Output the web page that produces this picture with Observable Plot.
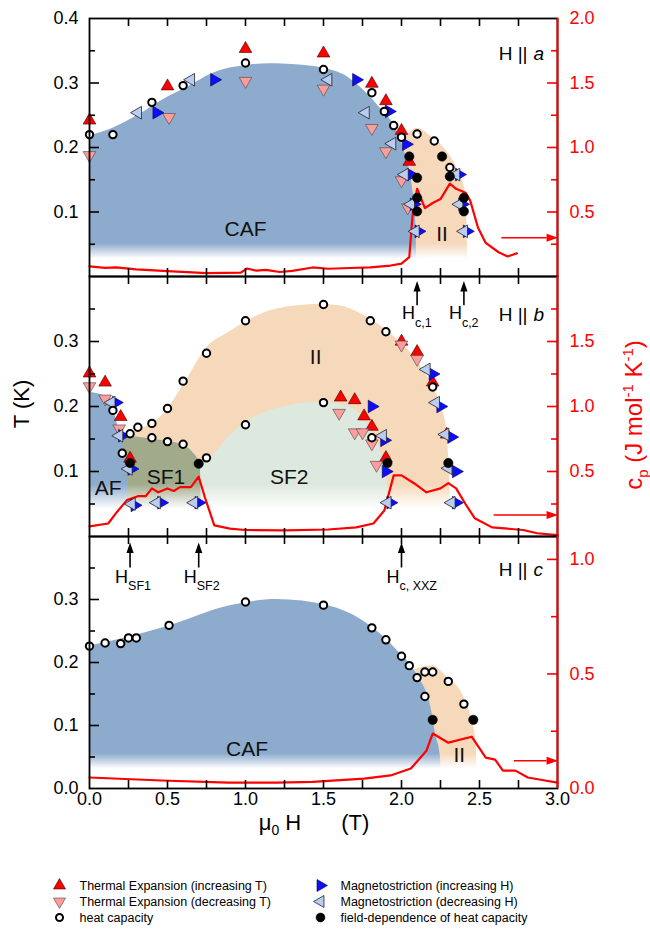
<!DOCTYPE html>
<html><head><meta charset="utf-8">
<script src="https://cdn.jsdelivr.net/npm/d3@7"></script>
<script src="https://cdn.jsdelivr.net/npm/@observablehq/plot@0.6"></script>
<style>
html,body{margin:0;padding:0;background:#fff;}
#fig{position:relative;width:650px;height:930px;font-family:"Liberation Sans",Arial,sans-serif;overflow:hidden;}
#fig svg{position:absolute;left:0;overflow:visible;}
.ttl{position:absolute;white-space:nowrap;font-size:22px;line-height:1;}
.ttl sub,.ttl sup{font-size:14px;line-height:0;}
</style></head>
<body><div id="fig"></div>
<script>
// ---------------- DATA (H in T, T in K, cp in J/mol/K) ----------------
// Panel a (H || a)
const aTeUp   = [[0,0.242],[0.5,0.295],[1.0,0.353],[1.5,0.346],[1.81,0.299],[1.90,0.272],[2.0,0.226],[2.05,0.178]];
const aTeDown = [[0,0.188],[0.51,0.247],[1.0,0.303],[1.5,0.291],[1.81,0.230],[1.90,0.194],[2.0,0.149],[2.04,0.107]];
const aMsUp   = [[0.43,0.254],[0.80,0.305],[1.71,0.305],[1.92,0.256],[2.03,0.205],[2.06,0.158],[2.08,0.112],[2.11,0.070],[2.37,0.158],[2.39,0.112],[2.42,0.070]];
const aMsDown = [[0.31,0.254],[0.65,0.305],[1.53,0.305],[1.77,0.254],[1.94,0.206],[2.02,0.158],[2.06,0.112],[2.09,0.070],[2.35,0.158],[2.37,0.112],[2.40,0.070]];
const aHc     = [[0,0.220],[0.15,0.220],[0.40,0.270],[0.60,0.296],[1.0,0.331],[1.5,0.321],[1.81,0.285],[1.89,0.256],[1.95,0.234],[2.0,0.216],[2.10,0.221],[2.21,0.210],[2.31,0.169]];
const aHcField= [[2.05,0.186],[2.26,0.186],[2.10,0.153],[2.31,0.155],[2.10,0.122],[2.10,0.101],[2.40,0.122],[2.40,0.101]];
const aCp     = [[0,0.078],[0.10,0.067],[0.17,0.070],[0.30,0.055],[0.50,0.041],[0.75,0.026],[0.97,0.030],[1.01,0.062],[1.07,0.045],[1.13,0.052],[1.22,0.035],[1.30,0.043],[1.43,0.070],[1.53,0.060],[1.67,0.066],[1.80,0.070],[1.93,0.085],[2.0,0.10],[2.05,0.15],[2.07,0.46],[2.10,0.68],[2.15,0.53],[2.20,0.57],[2.25,0.60],[2.31,0.72],[2.35,0.68],[2.41,0.65],[2.44,0.59],[2.49,0.38],[2.54,0.26],[2.62,0.19],[2.68,0.155],[2.74,0.18]];
const aCAF    = [[0,0.218],[0.15,0.230],[0.31,0.250],[0.50,0.278],[0.60,0.290],[0.80,0.316],[1.0,0.327],[1.15,0.330],[1.38,0.327],[1.62,0.314],[1.71,0.299],[1.86,0.262],[1.97,0.226],[2.03,0.185],[2.07,0.138],[2.09,0.092],[2.10,0.0]];
const aII     = [[1.95,0.200],[2.05,0.222],[2.10,0.230],[2.20,0.215],[2.27,0.200],[2.36,0.165],[2.41,0.130],[2.42,0.080],[2.425,0.0]];

// Panel b (H || b)
const bTeUp   = [[0,0.251],[0.10,0.237],[0.20,0.184],[0.26,0.120],[1.61,0.214],[1.70,0.210],[1.76,0.185],[1.81,0.169],[1.90,0.121],[2.0,0.300],[2.10,0.284],[2.20,0.237],[2.29,0.157]];
const bTeDown = [[0,0.231],[0.10,0.212],[0.19,0.166],[1.60,0.190],[1.70,0.160],[1.75,0.160],[1.81,0.143],[1.84,0.110],[2.0,0.295],[2.10,0.273]];
const bMsUp   = [[0.17,0.206],[0.21,0.155],[0.27,0.104],[0.29,0.048],[0.46,0.052],[0.70,0.052],[1.81,0.200],[1.89,0.148],[1.90,0.100],[1.93,0.052],[2.20,0.250],[2.25,0.200],[2.32,0.153],[2.35,0.100],[2.35,0.052]];
const bMsDown = [[0.14,0.206],[0.19,0.155],[0.25,0.104],[0.27,0.050],[0.43,0.052],[0.67,0.052],[1.88,0.155],[1.91,0.052],[2.16,0.257],[2.22,0.206],[2.28,0.157],[2.30,0.105],[2.32,0.052]];
const bHc     = [[0.15,0.194],[0.21,0.128],[0.26,0.158],[0.31,0.168],[0.40,0.174],[0.40,0.152],[0.50,0.197],[0.50,0.146],[0.60,0.239],[0.60,0.142],[0.75,0.282],[0.75,0.121],[1.0,0.332],[1.0,0.172],[1.5,0.357],[1.5,0.206],[1.80,0.332],[1.81,0.152],[1.90,0.315],[2.20,0.230]];
const bHcField= [[0.26,0.113],[0.70,0.112],[1.91,0.113],[2.30,0.113]];
const bCp     = [[0,0.078],[0.12,0.10],[0.17,0.18],[0.24,0.28],[0.31,0.31],[0.36,0.31],[0.40,0.37],[0.44,0.34],[0.50,0.37],[0.54,0.35],[0.58,0.38],[0.65,0.38],[0.70,0.46],[0.74,0.30],[0.80,0.085],[0.90,0.06],[1.0,0.05],[1.25,0.047],[1.53,0.054],[1.71,0.07],[1.82,0.10],[1.89,0.20],[1.95,0.47],[2.0,0.47],[2.08,0.41],[2.16,0.34],[2.25,0.37],[2.30,0.41],[2.35,0.37],[2.41,0.25],[2.47,0.14],[2.58,0.07],[2.68,0.06],[2.78,0.05],[2.87,0.025],[3.0,0.01]];
const bAF     = [[0,0.222],[0.11,0.214],[0.16,0.190],[0.20,0.150],[0.23,0.120],[0.245,0.080],[0.25,0.0]];
const bSF1    = [[0.20,0.155],[0.30,0.153],[0.45,0.148],[0.58,0.142],[0.66,0.130],[0.71,0.110],[0.72,0.0]];
const bSF2    = [[0.71,0.110],[0.77,0.120],[0.90,0.155],[1.0,0.175],[1.2,0.197],[1.47,0.206],[1.66,0.200],[1.76,0.180],[1.83,0.150],[1.89,0.110],[1.91,0.080],[1.92,0.0]];
const bII     = [[0.20,0.155],[0.27,0.160],[0.48,0.190],[0.62,0.240],[0.75,0.290],[0.90,0.315],[1.0,0.330],[1.2,0.350],[1.47,0.357],[1.6,0.355],[1.76,0.340],[1.94,0.310],[2.10,0.270],[2.20,0.230],[2.28,0.180],[2.30,0.130],[2.31,0.080],[2.315,0.0]];

// Panel c (H || c)
const cHc     = [[0,0.226],[0.10,0.231],[0.20,0.230],[0.25,0.239],[0.30,0.239],[0.51,0.259],[1.0,0.296],[1.5,0.291],[1.81,0.255],[1.90,0.236],[2.0,0.210],[2.05,0.195],[2.10,0.176],[2.15,0.185],[2.20,0.185],[2.30,0.170],[2.15,0.146],[2.40,0.134]];
const cHcField= [[2.20,0.109],[2.46,0.109]];
const cCp     = [[0,0.048],[0.46,0.035],[0.89,0.026],[1.2,0.026],[1.43,0.029],[1.76,0.043],[1.93,0.057],[2.06,0.087],[2.16,0.165],[2.20,0.24],[2.30,0.20],[2.45,0.226],[2.54,0.135],[2.60,0.126],[2.65,0.078],[2.73,0.078],[2.81,0.048],[2.92,0.035],[3.0,0.026]];
const cCAF    = [[0,0.226],[0.25,0.240],[0.5,0.257],[0.9,0.290],[1.2,0.300],[1.53,0.290],[1.76,0.265],[1.97,0.220],[2.10,0.180],[2.19,0.127],[2.22,0.085],[2.25,0.050],[2.255,0.0]];
const cII     = [[2.05,0.180],[2.10,0.190],[2.20,0.195],[2.30,0.175],[2.39,0.150],[2.45,0.110],[2.48,0.070],[2.485,0.0]];

// Tick values
const xMinorTicks = [0.25,0.5,0.75,1,1.25,1.5,1.75,2,2.25,2.5,2.75];
const xTickLabels = [0,0.5,1,1.5,2,2.5,3];
const tMajor = [0.1,0.2,0.3];
const tMinor = [0.05,0.15,0.25,0.35];
const legendLabels = ["Thermal Expansion (increasing T)","Thermal Expansion (decreasing T)","heat capacity","Magnetostriction (increasing H)","Magnetostriction (decreasing H)","field-dependence of heat capacity"];

// ---------------- STYLE ----------------
const RED = "#ff0000";
const W = 650, ML = 89, MR = 93, INNER_W = W - ML - MR;
const FONT = '"Liberation Sans", Arial, sans-serif';
const fmt = d3.format(".1f");
const REGION = {blue: "#8dabcd", orange: "#f6d8ba", green: "#dde8de", olive: "#a1ab8c"};

const S3 = Math.sqrt(3);
function triangle(deg) {
  const a = deg * Math.PI / 180, c = Math.cos(a), s = Math.sin(a);
  return {draw(ctx, size) {
    const y = -Math.sqrt(size / (S3 * 3));
    [[0, y * 2], [-S3 * y, -y], [S3 * y, -y]].forEach(([px, py], i) => {
      const X = px * c - py * s, Y = px * s + py * c;
      i ? ctx.lineTo(X, Y) : ctx.moveTo(X, Y);
    });
    ctx.closePath();
  }};
}
function arrowHead(deg) {
  const a = deg * Math.PI / 180, c = Math.cos(a), s = Math.sin(a);
  return {draw(ctx, size) {
    const r = Math.sqrt(size / Math.PI), h = 2.6 * r, w = 1.8 * r;
    [[0, -h], [-w / 2, 0], [w / 2, 0]].forEach(([px, py], i) => {
      const X = px * c - py * s, Y = px * s + py * c;
      i ? ctx.lineTo(X, Y) : ctx.moveTo(X, Y);
    });
    ctx.closePath();
  }};
}
const triUp = triangle(0), triDown = triangle(180), triRight = triangle(90), triLeft = triangle(270);
const headUp = arrowHead(0), headRight = arrowHead(90);

const STYLE = {
  teUp:    {symbol: triUp,    fill: "#ff0000", stroke: "#3a0000", r: 4.7, strokeWidth: 0.6},
  teDown:  {symbol: triDown,  fill: "#ff9c9c", stroke: "#444",    r: 4.7, strokeWidth: 0.6},
  msUp:    {symbol: triRight, fill: "#0d0dff", stroke: "#000040", r: 4.7, strokeWidth: 0.6},
  msDown:  {symbol: triLeft,  fill: "#b9cdf3", stroke: "#222",    r: 4.7, strokeWidth: 0.8},
  hc:      {symbol: "circle", fill: "#fff",    stroke: "#000",    r: 3.7, strokeWidth: 2},
  hcField: {symbol: "circle", fill: "#000",    stroke: "#000",    r: 4.7, strokeWidth: 0.5}
};
const ORDER = ["teUp", "teDown", "msUp", "msDown", "hc", "hcField"];

function gradDefs(id, color, tFull, tWhite) {
  return (index, scales) => {
    const defs = d3.create("svg:defs");
    const g = defs.append("linearGradient").attr("id", id).attr("gradientUnits", "userSpaceOnUse")
      .attr("x1", 0).attr("x2", 0).attr("y1", scales.y(tFull)).attr("y2", scales.y(tWhite));
    g.append("stop").attr("offset", 0).attr("stop-color", color);
    g.append("stop").attr("offset", 1).attr("stop-color", "#fff");
    return defs.node();
  };
}

function makePanel(p) {
  const k = 0.4 / p.cpMax; // cp -> T units for the right axis
  const innerH = p.innerH;
  const marks = [];
  for (const [name, col] of Object.entries(REGION)) marks.push(gradDefs(p.id + name, col, p.fade[0], p.fade[1]));
  for (const [data, color] of p.regions)
    marks.push(Plot.areaY(data, {x: d => d[0], y: d => d[1], fill: `url(#${p.id}${color})`, curve: "monotone-x"}));
  marks.push(Plot.text(p.phaseLabels, {x: d => d[1], y: d => d[2], text: d => d[0], fontSize: 21, fill: "#111"}));
  marks.push(Plot.line(p.cp, {x: d => d[0], y: d => d[1] * k, stroke: RED, strokeWidth: 2.2}));
  // red arrow pointing to the right axis
  marks.push(Plot.link([p.redArrow], {x1: d => d[0], x2: d => d[1], y1: d => d[2], y2: d => d[2], stroke: RED, strokeWidth: 1.4}));
  marks.push(Plot.dot([p.redArrow], {x: d => d[1], y: d => d[2], symbol: headRight, fill: RED, r: 4.4}));
  // black field arrows with labels
  if (p.hMarks) {
    marks.push(Plot.ruleX(p.hMarks, {x: d => d[0], y1: p.hArrowY[0], y2: p.hArrowY[1], stroke: "#000", strokeWidth: 1.6}));
    marks.push(Plot.dot(p.hMarks, {x: d => d[0], y: p.hArrowY[2], symbol: headUp, fill: "#000", r: 4}));
    marks.push(Plot.text(p.hMarks, {x: d => d[0], y: p.hLabelY, text: () => "H", textAnchor: "end", dx: -2, fontSize: 18}));
    marks.push(Plot.text(p.hMarks, {x: d => d[0], y: p.hLabelY, text: d => d[1], textAnchor: "start", dx: -2, dy: 9, fontSize: 12.5}));
  }
  // data points
  for (const key of ORDER) if (p.points[key])
    marks.push(Plot.dot(p.points[key], {x: d => d[0], y: d => d[1], ...STYLE[key]}));
  // orientation label
  marks.push(Plot.text([p.dir], {frameAnchor: "top-right", text: () => "H ||", textAnchor: "end", dx: -30, dy: p.dirDy, fontSize: 19}));
  marks.push(Plot.text([p.dir], {frameAnchor: "top-right", text: d => d, textAnchor: "start", dx: -24, dy: p.dirDy, fontSize: 19, fontStyle: "italic"}));
  // frame + ticks
  marks.push(Plot.tickX(xMinorTicks, {x: d => d, insetBottom: innerH - 8, stroke: "#000", strokeWidth: 1.6}));
  marks.push(Plot.tickX(xMinorTicks, {x: d => d, insetTop: innerH - 8, stroke: "#000", strokeWidth: 1.6}));
  marks.push(Plot.tickY(tMajor, {y: d => d, insetRight: INNER_W - 10, stroke: "#000", strokeWidth: 1.6}));
  marks.push(Plot.tickY(tMinor, {y: d => d, insetRight: INNER_W - 6, stroke: "#000", strokeWidth: 1.6}));
  marks.push(Plot.tickY(p.cpMajor, {y: d => d * k, insetLeft: INNER_W - 10, stroke: RED, strokeWidth: 1.6}));
  marks.push(Plot.tickY(p.cpMinor, {y: d => d * k, insetLeft: INNER_W - 6, stroke: RED, strokeWidth: 1.6}));
  marks.push(Plot.frame({stroke: "#000", strokeWidth: 1.8}));
  marks.push(Plot.ruleX([3], {stroke: RED, strokeWidth: 2}));
  // tick labels
  marks.push(Plot.text(p.tLabels, {y: d => d, frameAnchor: "left", dx: -11, textAnchor: "end", text: d => fmt(d), fontSize: 18}));
  marks.push(Plot.text(p.cpLabels, {y: d => d * k, frameAnchor: "right", dx: 12, textAnchor: "start", text: d => fmt(d), fontSize: 18, fill: RED}));
  if (p.xLabels) marks.push(Plot.text(xTickLabels, {x: d => d, frameAnchor: "bottom", dy: 16, text: d => fmt(d), fontSize: 18}));

  const svg = Plot.plot({
    width: W, height: p.marginTop + innerH + p.marginBottom,
    marginLeft: ML, marginRight: MR, marginTop: p.marginTop, marginBottom: p.marginBottom,
    x: {domain: [0, 3], axis: null}, y: {domain: [0, 0.4], axis: null},
    style: {fontFamily: FONT, background: "transparent", overflow: "visible", color: "#000"},
    marks
  });
  svg.style.top = p.top + "px";
  return svg;
}

const fig = document.getElementById("fig");

fig.appendChild(makePanel({
  id: "pa", top: 0, marginTop: 18, marginBottom: 0, innerH: 258, cpMax: 2.0,
  fade: [0.051, 0.027],
  regions: [[aII, "orange"], [aCAF, "blue"]],
  phaseLabels: [["CAF", 1.0, 0.074], ["II", 2.26, 0.066]],
  cp: aCp, redArrow: [2.64, 2.93, 0.060],
  points: {teUp: aTeUp, teDown: aTeDown, msUp: aMsUp, msDown: aMsDown, hc: aHc, hcField: aHcField},
  dir: "a", dirDy: 28,
  tLabels: [0.1, 0.2, 0.3, 0.4], cpLabels: [0.5, 1.0, 1.5, 2.0],
  cpMajor: [0.5, 1.0, 1.5], cpMinor: [0.25, 0.75, 1.25, 1.75]
}));

fig.appendChild(makePanel({
  id: "pb", top: 276, marginTop: 0, marginBottom: 0, innerH: 260, cpMax: 2.0,
  fade: [0.08, 0.042],
  regions: [[bII, "orange"], [bSF2, "green"], [bSF1, "olive"], [bAF, "blue"]],
  phaseLabels: [["AF", 0.12, 0.074], ["SF1", 0.49, 0.091], ["SF2", 1.28, 0.091], ["II", 1.45, 0.275]],
  cp: bCp, redArrow: [2.59, 2.93, 0.033],
  points: {teUp: bTeUp, teDown: bTeDown, msUp: bMsUp, msDown: bMsDown, hc: bHc, hcField: bHcField},
  hMarks: [[2.1, "c,1"], [2.4, "c,2"]], hArrowY: [0.355, 0.378, 0.377], hLabelY: 0.343,
  dir: "b", dirDy: 31,
  tLabels: [0.1, 0.2, 0.3], cpLabels: [0.5, 1.0, 1.5],
  cpMajor: [0.5, 1.0, 1.5], cpMinor: [0.25, 0.75, 1.25, 1.75]
}));

fig.appendChild(makePanel({
  id: "pc", top: 536, marginTop: 0, marginBottom: 60, innerH: 252, cpMax: 1.1,
  fade: [0.055, 0.031],
  regions: [[cII, "orange"], [cCAF, "blue"]],
  phaseLabels: [["CAF", 1.01, 0.063], ["II", 2.37, 0.052]],
  cp: cCp, redArrow: [2.72, 2.93, 0.044],
  points: {hc: cHc, hcField: cHcField},
  hMarks: [[0.26, "SF1"], [0.70, "SF2"], [2.0, "c, XXZ"]], hArrowY: [0.35, 0.375, 0.374], hLabelY: 0.335,
  dir: "c", dirDy: 26,
  tLabels: [0.0, 0.1, 0.2, 0.3], cpLabels: [0.0, 0.5, 1.0],
  cpMajor: [0.5, 1.0], cpMinor: [0.25, 0.75],
  xLabels: true
}));

// legend
const legendOrder = ["teUp", "teDown", "hc", "msUp", "msDown", "hcField"];
const legendItems = legendOrder.map((key, i) => ({key, label: legendLabels[i], col: i < 3 ? 0 : 1, row: i % 3}));
const legend = Plot.plot({
  width: W, height: 70, margin: 0,
  x: {domain: [0, 1], range: [59, 320], axis: null},
  y: {domain: [0, 2], range: [25, 57], axis: null},
  style: {fontFamily: FONT, background: "transparent", overflow: "visible"},
  marks: [
    ...legendItems.map(d => Plot.dot([d], {x: "col", y: "row", ...STYLE[d.key], r: STYLE[d.key].r * 0.95})),
    Plot.text(legendItems, {x: "col", y: "row", text: "label", dx: 20, textAnchor: "start", fontSize: 12.5})
  ]
});
legend.style.top = "860px";
fig.appendChild(legend);

// axis titles
function title(html, css) {
  const d = document.createElement("div");
  d.className = "ttl"; d.innerHTML = html;
  Object.assign(d.style, css);
  fig.appendChild(d);
}
title("T (K)", {left: "22px", top: "404px", transform: "translate(-50%,-50%) rotate(-90deg)"});
title('c<sub style="font-size:15px">p</sub> (J mol<sup style="font-size:15px">-1</sup> K<sup style="font-size:15px">-1</sup>)', {left: "634px", top: "415px", fontSize: "24px", color: RED, transform: "translate(-50%,-50%) rotate(-90deg)"});
title('μ<sub>0</sub> H<span style="display:inline-block;width:40px"></span>(T)', {left: "314px", top: "823px", transform: "translate(-50%,-50%)"});
</script></body></html>
